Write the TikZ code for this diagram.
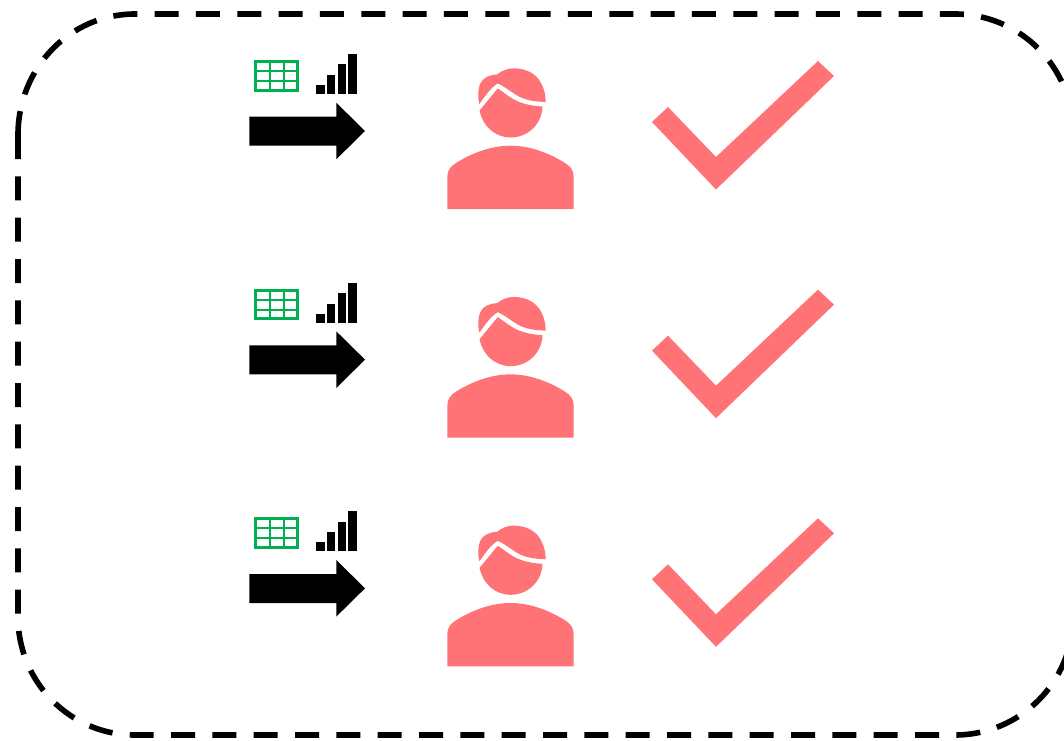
\documentclass[tikz,border=0pt]{standalone}
\definecolor{salmon}{HTML}{FF7377}
\definecolor{gridgreen}{HTML}{00B050}
\tikzset{
  frameline/.style={draw=black,line width=4.2pt,dash pattern=on 18pt off 13pt},
  redfill/.style={fill=salmon,draw=none},
  blackfill/.style={fill=black,draw=none},
  gridline/.style={draw=gridgreen,line width=1.5pt},
  gridborder/.style={draw=gridgreen,line width=2.2pt}
}
\begin{document}
\begin{tikzpicture}[x=0.75pt,y=-0.75pt]
\useasboundingbox (0,0) rectangle (1064,740);
\path[fill=white] (0,0) rectangle (1064,740);
% frame
\draw[frameline] (18,135) .. controls (18,68) and (70,14) .. (135,14) -- (955,14) .. controls (1020,14) and (1073,67) .. (1073,132);
\draw[frameline] (18,135) -- (18,617) .. controls (18,682) and (70,735) .. (135,735) -- (955,735) .. controls (1020,735) and (1073,682) .. (1073,617);
\foreach \dy in {0,228.65,457.3}{
\begin{scope}[yshift=-0.75*\dy pt]
  % table icon
  \draw[gridline] (269.5,61.5) -- (269.5,90.5) (284,61.5) -- (284,90.5) (255.5,71) -- (298,71) (255.5,81) -- (298,81);
  \draw[gridborder] (255.8,61.5) rectangle (297.6,90.3);
  % signal bars
  \fill[blackfill] (316,85) rectangle (325,94);
  \fill[blackfill] (327.3,75) rectangle (335.3,94);
  \fill[blackfill] (337.7,64.3) rectangle (346,94);
  \fill[blackfill] (348.3,54) rectangle (356.7,94);
  % arrow
  \fill[blackfill] (249.3,116.7) -- (336.3,116.7) -- (336.3,102.7) -- (365,131) -- (336.3,159.3) -- (336.3,145.7) -- (249.3,145.7) -- cycle;
  % person body
  \fill[redfill] (447.3,209) -- (447.3,177) .. controls (447.3,170) and (451,166) .. (456,163) .. controls (472,153) and (491,145.7) .. (510.5,145.7) .. controls (530,145.7) and (549,153) .. (565,163) .. controls (570,166) and (573.7,170) .. (573.7,177) -- (573.7,209) -- cycle;
  % face
  \fill[redfill] (479.6,110.5) -- (497.7,88.5) .. controls (505,93) and (510,98) .. (517,101) .. controls (525,104.5) and (533,106) .. (542.5,106.5) .. controls (542,124) and (528,137.5) .. (510.5,137.5) .. controls (495,137.5) and (482.5,126) .. (479.6,110.5) -- cycle;
  % hair
  \fill[redfill] (479.4,104) .. controls (477.5,97) and (478,90) .. (480,84) .. controls (483,77.5) and (489,75) .. (497,74.5) .. controls (502,70.5) and (508,68.3) .. (513.5,68.3) .. controls (526,68.3) and (536,73.5) .. (541,83) .. controls (544.5,89.5) and (545.5,95) .. (545.7,102) .. controls (535,101.5) and (526,100.5) .. (518,96) .. controls (511,92) and (504,86) .. (497.7,83.5) .. controls (491,87.5) and (485,96) .. (479.4,104) -- cycle;
  % check mark
  \fill[redfill] (652,122) -- (668,107) -- (716,157) -- (818,61) -- (834,76) -- (716,189.5) -- cycle;
\end{scope}
}
\end{tikzpicture}
\end{document}
